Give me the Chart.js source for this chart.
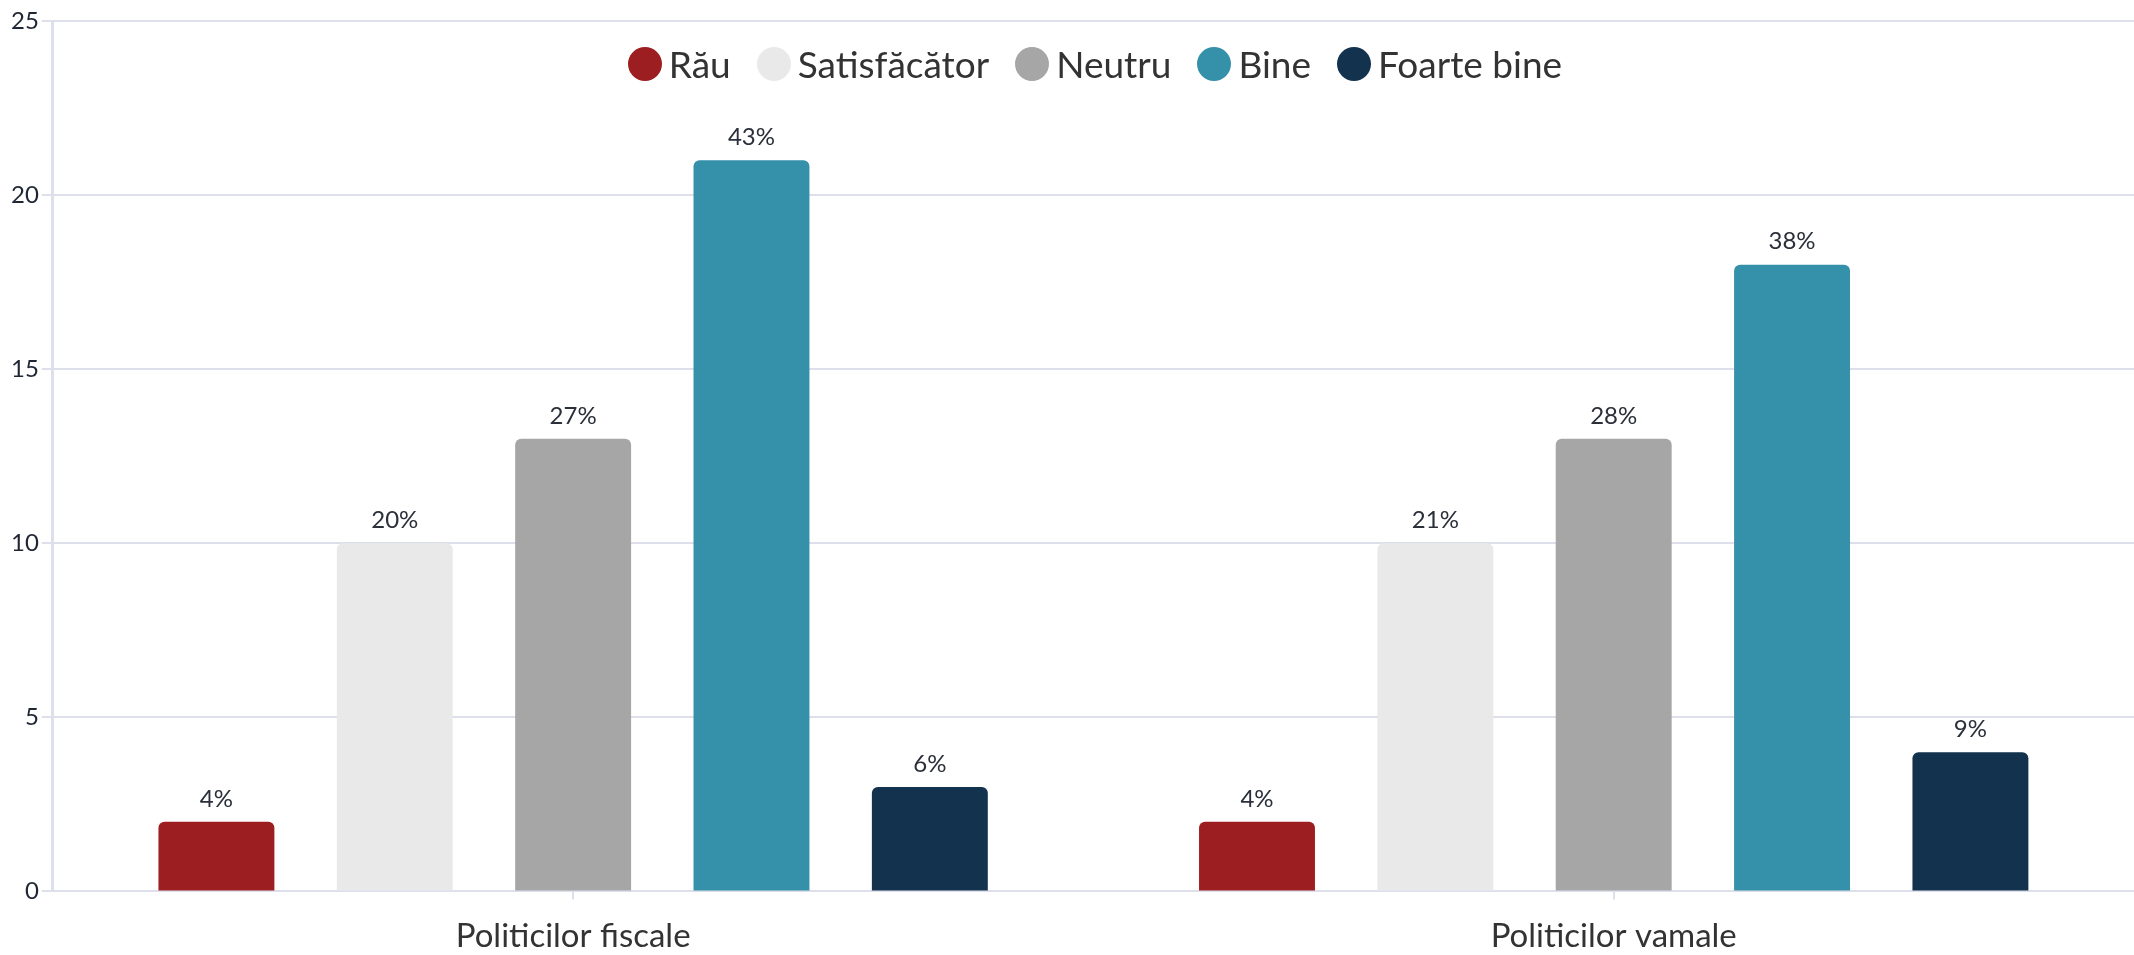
<!DOCTYPE html>
<html>
<head>
<meta charset="utf-8">
<script src="https://cdn.jsdelivr.net/npm/chart.js@4"></script>
<style>
  html, body { margin: 0; padding: 0; background: #ffffff; }
  #cutie { position: relative; width: 2134px; height: 955px; }
  #legenda {
    position: absolute; top: 41px; left: 56px; right: 0;
    display: flex; justify-content: center; align-items: center;
    font-family: Lato, "Open Sans", sans-serif; font-size: 37px; color: #333333;
    pointer-events: none;
  }
  #legenda .element { display: flex; align-items: center; margin: 0 13px; }
  #legenda .bulina { width: 34px; height: 34px; border-radius: 50%; margin-right: 7px; }
</style>
</head>
<body>
<div id="cutie">
  <canvas id="grafic"></canvas>
  <div id="legenda"></div>
</div>
<script>
// date
const categorii = ['Politicilor fiscale', 'Politicilor vamale'];
const serii = ['Rău', 'Satisfăcător', 'Neutru', 'Bine', 'Foarte bine'];
const valoriRau = [2, 2];
const valoriSatisfacator = [10, 10];
const valoriNeutru = [13, 13];
const valoriBine = [21, 18];
const valoriFoarteBine = [3, 4];
const eticheteRau = ['4%', '4%'];
const eticheteSatisfacator = ['20%', '21%'];
const eticheteNeutru = ['27%', '28%'];
const eticheteBine = ['43%', '38%'];
const eticheteFoarteBine = ['6%', '9%'];
const culori = ['#9d1e20', '#e9e9e9', '#a6a6a6', '#3590aa', '#12324e'];
const ticksY = [0, 5, 10, 15, 20, 25];

const valori = [valoriRau, valoriSatisfacator, valoriNeutru, valoriBine, valoriFoarteBine];
const etichete = [eticheteRau, eticheteSatisfacator, eticheteNeutru, eticheteBine, eticheteFoarteBine];

const fontBaza = 'Lato, "Open Sans", sans-serif';

// procentele de deasupra barelor
const procente = {
    id: 'procente',
    afterDatasetsDraw(chart) {
        const ctx = chart.ctx;
        ctx.save();
        ctx.font = '24px ' + fontBaza;
        ctx.fillStyle = '#2a2f3a';
        ctx.textAlign = 'center';
        ctx.textBaseline = 'bottom';
        chart.data.datasets.forEach((ds, i) => {
            chart.getDatasetMeta(i).data.forEach((bara, j) => {
                ctx.fillText(etichete[i][j], bara.x, bara.y - 11);
            });
        });
        ctx.restore();
    }
};

const grafic = new Chart(document.getElementById('grafic'), {
    type: 'bar',
    data: {
        labels: categorii,
        datasets: serii.map((nume, i) => ({
            label: nume,
            data: valori[i],
            backgroundColor: culori[i],
            borderRadius: 6,
            categoryPercentage: 0.857,
            barPercentage: 0.65
        }))
    },
    options: {
        responsive: true,
        maintainAspectRatio: false,
        animation: false,
        layout: { padding: { top: 21, right: 0, bottom: -18, left: 8 } },
        plugins: {
            legend: { display: false },
            tooltip: { enabled: false }
        },
        scales: {
            x: {
                grid: { drawOnChartArea: false, offset: false, color: '#dde0ea', lineWidth: 2, tickLength: 8 },
                border: { color: '#dde0ea', width: 2 },
                ticks: { color: '#333333', font: { family: fontBaza, size: 33 }, padding: 17 }
            },
            y: {
                min: 0,
                max: 25,
                afterBuildTicks(axa) { axa.ticks = ticksY.map(v => ({ value: v })); },
                grid: { color: '#dde0ea', lineWidth: 2, tickLength: 11 },
                border: { color: '#dde0ea', width: 3 },
                ticks: { color: '#1f2633', font: { family: fontBaza, size: 24 }, padding: 3 }
            }
        }
    },
    plugins: [procente]
});

// legenda HTML, asezata peste zona graficului
const legenda = document.getElementById('legenda');
serii.forEach((nume, i) => {
    const el = document.createElement('div');
    el.className = 'element';
    el.innerHTML = `<span class="bulina" style="background:${culori[i]}"></span><span>${nume}</span>`;
    legenda.appendChild(el);
});
</script>
</body>
</html>
